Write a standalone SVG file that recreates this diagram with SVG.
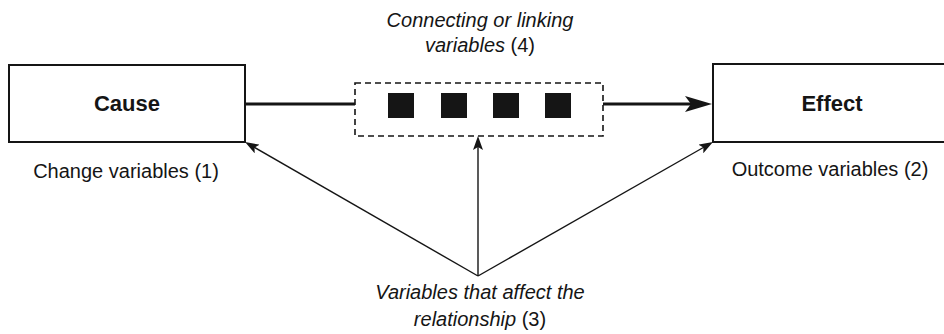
<svg xmlns="http://www.w3.org/2000/svg" width="944" height="334" viewBox="0 0 944 334">
  <style>
    .box { fill: #ffffff; stroke: #151515; stroke-width: 2; }
    .dash { fill: none; stroke: #151515; stroke-width: 1.6; stroke-dasharray: 6 4; }
    .sq { fill: #151515; }
    .thick { stroke: #151515; stroke-width: 3; fill: none; }
    .thin { stroke: #151515; stroke-width: 1.4; fill: none; }
    .bold { font-family: "Liberation Sans", Arial, sans-serif; font-size: 22px; font-weight: bold; fill: #151515; text-anchor: middle; }
    .lbl { font-family: "Liberation Sans", Arial, sans-serif; font-size: 20px; fill: #151515; text-anchor: middle; }
    .it { font-style: italic; }
  </style>
  <defs>
    <marker id="headThick" markerUnits="userSpaceOnUse" viewBox="0 0 27 18" markerWidth="27" markerHeight="18" refX="14" refY="9" orient="auto">
      <path d="M0,1 L27,9 L0,17 L6,9 Z" fill="#151515"/>
    </marker>
    <marker id="headThin" markerUnits="userSpaceOnUse" viewBox="0 0 14 10" markerWidth="14" markerHeight="10" refX="10" refY="5" orient="auto">
      <path d="M0,0 L14,5 L0,10 L3,5 Z" fill="#151515"/>
    </marker>
  </defs>

  <g id="connectors">
    <line class="thick" x1="245" y1="104" x2="355" y2="104"/>
    <line class="thick" x1="603" y1="104" x2="699" y2="104" marker-end="url(#headThick)"/>
    <line class="thin" x1="478" y1="276" x2="248.5" y2="144" marker-end="url(#headThin)"/>
    <line class="thin" x1="478" y1="276" x2="478" y2="140" marker-end="url(#headThin)"/>
    <line class="thin" x1="478" y1="276" x2="709.5" y2="144" marker-end="url(#headThin)"/>
  </g>

  <g id="cause">
    <rect class="box" x="9" y="65" width="236" height="77"/>
    <text class="bold" x="127" y="111">Cause</text>
    <text class="lbl" x="126" y="178">Change variables (1)</text>
  </g>

  <g id="effect">
    <rect class="box" x="713" y="64" width="240" height="78"/>
    <text class="bold" x="832" y="111">Effect</text>
    <text class="lbl" x="830" y="176">Outcome variables (2)</text>
  </g>

  <g id="linking">
    <rect class="dash" x="355" y="83" width="248" height="53"/>
    <rect class="sq" x="388" y="93" width="26" height="25"/>
    <rect class="sq" x="441" y="93" width="26" height="25"/>
    <rect class="sq" x="493" y="93" width="26" height="25"/>
    <rect class="sq" x="545" y="93" width="26" height="25"/>
    <text class="lbl" x="480" y="27"><tspan class="it">Connecting or linking</tspan></text>
    <text class="lbl" x="480" y="52"><tspan class="it">variables</tspan> (4)</text>
  </g>

  <g id="moderators">
    <text class="lbl" x="480" y="299"><tspan class="it">Variables that affect the</tspan></text>
    <text class="lbl" x="480" y="326"><tspan class="it">relationship</tspan> (3)</text>
  </g>
</svg>
